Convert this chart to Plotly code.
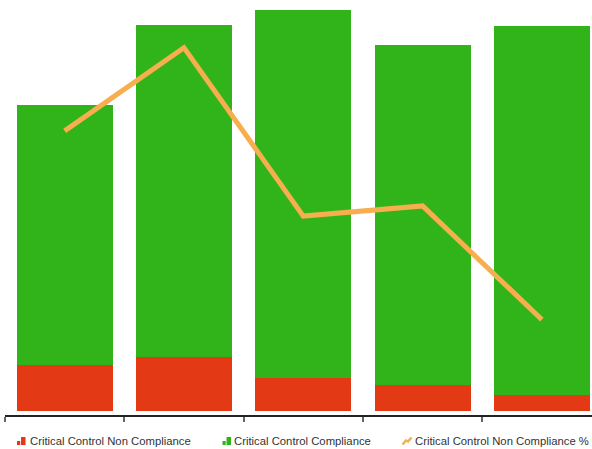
import plotly.graph_objects as go

categories = ["A", "B", "C", "D", "E"]
non_compliance = [23, 27, 16.5, 13, 8]
compliance = [130, 166, 184, 170, 184.5]
non_compliance_pct = [13.8, 17.9, 9.6, 10.1, 4.5]

legend_labels = ["Critical Control Non Compliance", "Critical Control Compliance",
                 "Critical Control Non Compliance %"]

RED = "#E33A15"
GREEN = "#31B31A"
ORANGE = "#F6AE4F"

W, H = 592, 449
ML, MR, MT, MB = 5, 0, 5, 34
PW, PH = W - ML - MR, H - MT - MB


def px_x(px):
    return (px - ML) / PW


def px_y(py):
    return (H - MB - py) / PH


fig = go.Figure()
fig.add_trace(go.Bar(x=categories, y=non_compliance, name=legend_labels[0],
                     marker=dict(color=RED, line=dict(width=0))))
fig.add_trace(go.Bar(x=categories, y=compliance, name=legend_labels[1],
                     marker=dict(color=GREEN, line=dict(width=0))))
fig.add_trace(go.Scatter(x=categories, y=non_compliance_pct, name=legend_labels[2],
                         mode="lines", line=dict(color=ORANGE, width=5), yaxis="y2"))

# custom legend (text + small icons) placed like the reference
text_x = [27.5, 232, 413]
legend_y = 441
annotations = []
for lbl, tx in zip(legend_labels, text_x):
    annotations.append(dict(text=lbl, x=px_x(tx), y=px_y(legend_y), xref="paper", yref="paper",
                            xanchor="left", yanchor="middle", showarrow=False,
                            font=dict(size=11.3, color="#333")))

shapes = []
for x0, color in [(17, RED), (222.5, GREEN)]:
    shapes.append(dict(type="rect", xref="paper", yref="paper",
                       x0=px_x(x0), x1=px_x(x0 + 3.2), y0=px_y(445), y1=px_y(441),
                       fillcolor=color, line=dict(width=0)))
    shapes.append(dict(type="rect", xref="paper", yref="paper",
                       x0=px_x(x0 + 4), x1=px_x(x0 + 8.5), y0=px_y(445), y1=px_y(437),
                       fillcolor=color, line=dict(width=0)))
pts = [(402.5, 444.5), (406, 440.5), (408, 441.5), (411.5, 437.5)]
path = "M" + " L".join(f"{px_x(a):.5f},{px_y(b):.5f}" for a, b in pts)
shapes.append(dict(type="path", xref="paper", yref="paper", path=path,
                   line=dict(color=ORANGE, width=2.5)))

fig.update_layout(
    width=W, height=H,
    margin=dict(l=ML, r=MR, t=MT, b=MB, autoexpand=False),
    barmode="stack", bargap=0.195,
    plot_bgcolor="white", paper_bgcolor="white",
    font=dict(family="Liberation Sans, Arial, sans-serif", size=12, color="#333"),
    showlegend=False,
    annotations=annotations,
    shapes=shapes,
    xaxis=dict(range=[-0.5, 4.42], showticklabels=False, showline=True, linecolor="#222",
               linewidth=1.5, ticks="outside", tickson="boundaries", ticklen=5,
               tickcolor="#666", tickwidth=1.5, showgrid=False, zeroline=False, fixedrange=True),
    yaxis=dict(range=[-2, 203], visible=False, showgrid=False, zeroline=False),
    yaxis2=dict(range=[-0.2, 20], overlaying="y", side="right", visible=False,
                showgrid=False, zeroline=False),
)

fig.write_html("out.html", config={"displayModeBar": False},
               post_script="document.body.style.margin='0';document.body.style.overflow='hidden';")
